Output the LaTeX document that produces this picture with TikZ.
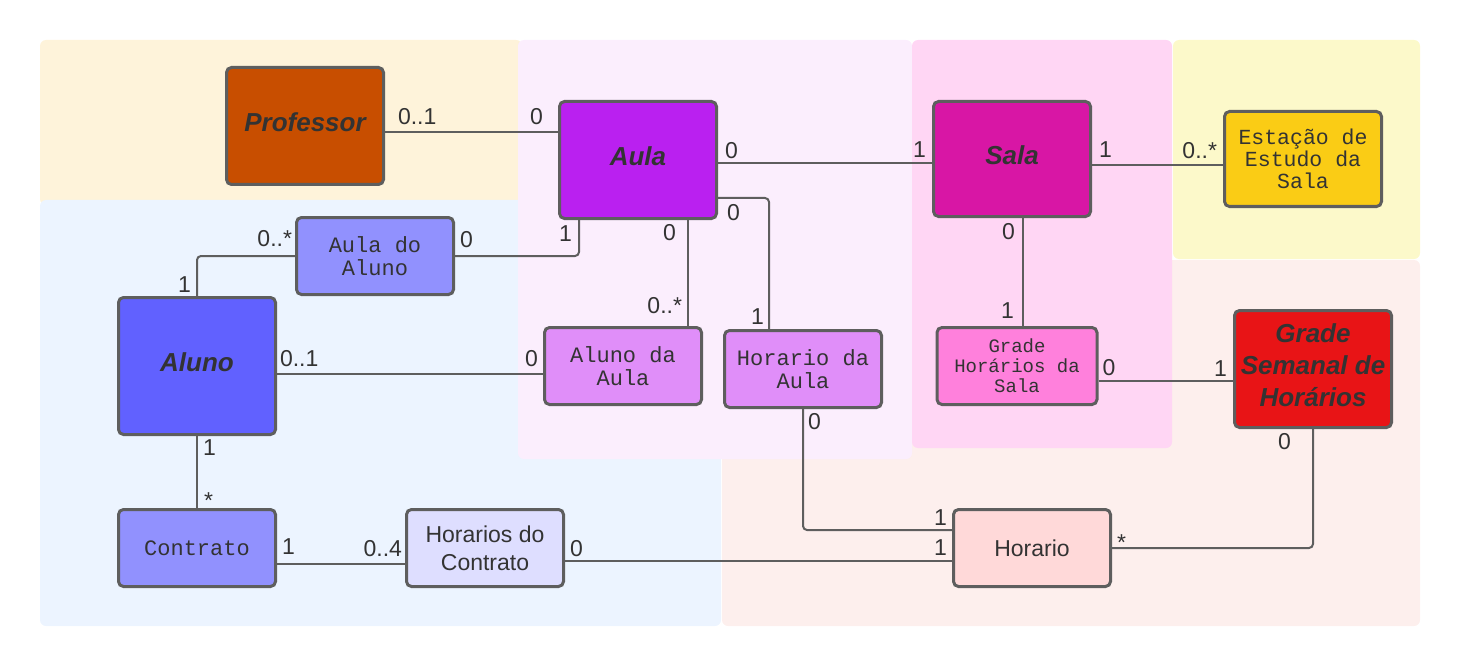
\documentclass[tikz,border=0pt]{standalone}
\usepackage{fontspec}
\setmainfont{Liberation Sans}
\setmonofont{Liberation Mono}
\usetikzlibrary{positioning}

\definecolor{linegray}{HTML}{5E5E5E}
\definecolor{textgray}{HTML}{333333}
\definecolor{fcreme}{HTML}{FEF3DA}
\definecolor{fazul}{HTML}{ECF4FF}
\definecolor{flilas}{HTML}{FBEEFD}
\definecolor{frosa}{HTML}{FFD6F4}
\definecolor{famarelo}{HTML}{FCF9CA}
\definecolor{fpessego}{HTML}{FDEFED}
\definecolor{cprof}{HTML}{C84E00}
\definecolor{caula}{HTML}{BA20F0}
\definecolor{csala}{HTML}{D816A5}
\definecolor{cestacao}{HTML}{FACC15}
\definecolor{cclaro}{HTML}{9191FE}
\definecolor{caluno}{HTML}{6161FF}
\definecolor{clilas}{HTML}{E08EF9}
\definecolor{crosa}{HTML}{FF80DC}
\definecolor{cvermelho}{HTML}{E81416}
\definecolor{cnevoa}{HTML}{DEDEFF}
\definecolor{cpessego}{HTML}{FFD9D9}

\tikzset{
  box/.style={draw=linegray, line width=3pt, rounded corners=5pt, text=textgray,
    align=center, inner sep=2pt, minimum width=157pt, minimum height=77pt},
  title/.style={box, text depth=8pt, font=\fontsize{26}{32}\selectfont\bfseries\itshape},
  mono/.style={box, font=\fontsize{22}{23}\selectfont\ttfamily},
  plain/.style={box, font=\fontsize{23}{28}\selectfont},
  conn/.style={draw=linegray, line width=2pt, rounded corners=4pt},
  mult/.style={font=\fontsize{23}{28}\selectfont, text=textgray, inner sep=0pt}
}

\begin{document}
\begin{tikzpicture}[x=1pt, y=-1pt]
\useasboundingbox (0,0) rectangle (1460,666);

% areas
\fill[fcreme, rounded corners=6pt] (40,40) rectangle (522,205);
\fill[fazul, rounded corners=6pt] (40,200) rectangle (721,626);
\fill[fpessego, rounded corners=6pt] (722,260) rectangle (1420,626);
\fill[famarelo, rounded corners=6pt] (1173,40) rectangle (1420,259);
\fill[flilas, rounded corners=6pt] (518,40) rectangle (912,459);
\fill[frosa, rounded corners=6pt] (912,40) rectangle (1172,448);

% classes
\node[title, fill=cprof, minimum height=117pt] (prof) at (305,126) {Professor};
\node[title, fill=caula, minimum height=117pt] (aula) at (638,160) {Aula};
\node[title, fill=csala, minimum height=115pt] (sala) at (1012,159) {Sala};
\node[mono, fill=cestacao, font=\fontsize{21.5}{22}\selectfont\ttfamily,
  minimum height=95pt] (estacao) at (1303,159) {Estação de\\Estudo da\\Sala};
\node[mono, fill=cclaro] (aulaaluno) at (375,256) {Aula do\\Aluno};
\node[title, fill=caluno, minimum height=137pt] (aluno) at (197,366) {Aluno};
\node[mono, fill=clilas] (alunoaula) at (623,366) {Aluno da\\Aula};
\node[mono, fill=clilas] (horaaula) at (803,369) {Horario da\\Aula};
\node[mono, fill=crosa, minimum width=160pt, font=\fontsize{19}{20}\selectfont\ttfamily]
  (gradesala) at (1017,366) {Grade\\Horários da\\Sala};
\node[title, fill=cvermelho, minimum height=117pt] (gradesemanal) at (1313,369)
  {Grade\\Semanal de\\Horários};
\node[mono, fill=cclaro] (contrato) at (197,548) {Contrato};
\node[plain, fill=cnevoa] (horacontrato) at (485,548) {Horarios do\\Contrato};
\node[plain, fill=cpessego] (horario) at (1032,548) {Horario};

% associations
\draw[conn] ([yshift=-6pt]prof.east) -- ([yshift=-6pt]prof.east -| aula.west)
  node[mult, pos=0, anchor=south west, xshift=12pt, yshift=6pt] (m1a) {0..1}
  node[mult, pos=1, anchor=south east, xshift=-14pt, yshift=6pt] (m1b) {0};
\draw[conn] ([yshift=-3pt]aula.east) -- ([yshift=-3pt]aula.east -| sala.west)
  node[mult, pos=0, anchor=south west, xshift=6pt, yshift=3pt] (m2a) {0}
  node[mult, pos=1, anchor=south east, xshift=-5pt, yshift=4pt] (m2b) {1};
\draw[conn] ([yshift=-38pt]aula.east) -| ([xshift=-34pt]horaaula.north)
  node[mult, pos=0, anchor=north west, xshift=8pt, yshift=-5pt] (m3a) {0}
  node[mult, pos=1, anchor=south east, xshift=-4pt, yshift=4pt] (m3b) {1};
\draw[conn] ([xshift=50pt]aula.south) -- ([xshift=50pt]aula.south |- alunoaula.north)
  node[mult, pos=0, anchor=north east, xshift=-11pt, yshift=-3pt] (m4a) {0}
  node[mult, pos=1, anchor=south east, xshift=-5pt, yshift=11pt] (m4b) {0..*};
\draw[conn] ([xshift=-59pt]aula.south) |- (aulaaluno.east)
  node[mult, pos=0, anchor=north east, xshift=-6pt, yshift=-5pt] (m5a) {1}
  node[mult, pos=1, anchor=south west, xshift=4pt, yshift=7pt] (m5b) {0};
\draw[conn] (aulaaluno.west) -| (aluno.north)
  node[mult, pos=0, anchor=south east, xshift=-2pt, yshift=8pt] (m6a) {0..*}
  node[mult, pos=1, anchor=south east, xshift=-5pt, yshift=3pt] (m6b) {1};
\draw[conn] ([yshift=-8pt]aluno.east) -- ([yshift=-8pt]aluno.east -| alunoaula.west)
  node[mult, pos=0, anchor=south west, xshift=2pt, yshift=6pt] (m7a) {0..1}
  node[mult, pos=1, anchor=south east, xshift=-4pt, yshift=6pt] (m7b) {0};
\draw[conn] ([yshift=-6pt]sala.east) -- ([yshift=-6pt]sala.east -| estacao.west)
  node[mult, pos=0, anchor=south west, xshift=6pt, yshift=6pt] (m8a) {1}
  node[mult, pos=1, anchor=south east, xshift=-5pt, yshift=5pt] (m8b) {0..*};
\draw[conn] ([xshift=11pt]sala.south) -- ([xshift=11pt]sala.south |- gradesala.north)
  node[mult, pos=0, anchor=north east, xshift=-7pt, yshift=-4pt] (m9a) {0}
  node[mult, pos=1, anchor=south east, xshift=-8pt, yshift=7pt] (m9b) {1};
\draw[conn] ([yshift=-15pt]gradesala.east) -- ([yshift=-15pt]gradesala.east -| gradesemanal.west)
  node[mult, pos=0, anchor=south west, xshift=3pt, yshift=4pt] (m10a) {0}
  node[mult, pos=1, anchor=south east, xshift=-5pt, yshift=4pt] (m10b) {1};
\draw[conn] (aluno.south) -- (contrato.north)
  node[mult, pos=0, anchor=north west, xshift=5pt, yshift=-3pt] (m11a) {1}
  node[mult, pos=1, anchor=base west, xshift=6pt] (m11b) {*};
\draw[conn] ([yshift=-16pt]contrato.east) -- ([yshift=-16pt]contrato.east -| horacontrato.west)
  node[mult, pos=0, anchor=south west, xshift=4pt, yshift=9pt] (m12a) {1}
  node[mult, pos=1, anchor=south east, xshift=-2pt, yshift=6pt] (m12b) {0..4};
\draw[conn] ([yshift=-13pt]horacontrato.east) -- ([yshift=-13pt]horacontrato.east -| horario.west)
  node[mult, pos=0, anchor=south west, xshift=4pt, yshift=3pt] (m13a) {0}
  node[mult, pos=1, anchor=south east, xshift=-4pt, yshift=5pt] (m13b) {1};
\draw[conn] (horaaula.south) |- ([yshift=18pt]horario.west)
  node[mult, pos=0, anchor=north west, xshift=4pt, yshift=-3pt] (m14a) {0}
  node[mult, pos=1, anchor=south east, xshift=-4pt, yshift=4pt] (m14b) {1};
\draw[conn] (horario.east) -| (gradesemanal.south)
  node[mult, pos=0, anchor=base west, xshift=4pt, yshift=-2pt] (m15a) {*}
  node[mult, pos=1, anchor=north east, xshift=-21pt, yshift=-3pt] (m15b) {0};
\end{tikzpicture}
\end{document}
